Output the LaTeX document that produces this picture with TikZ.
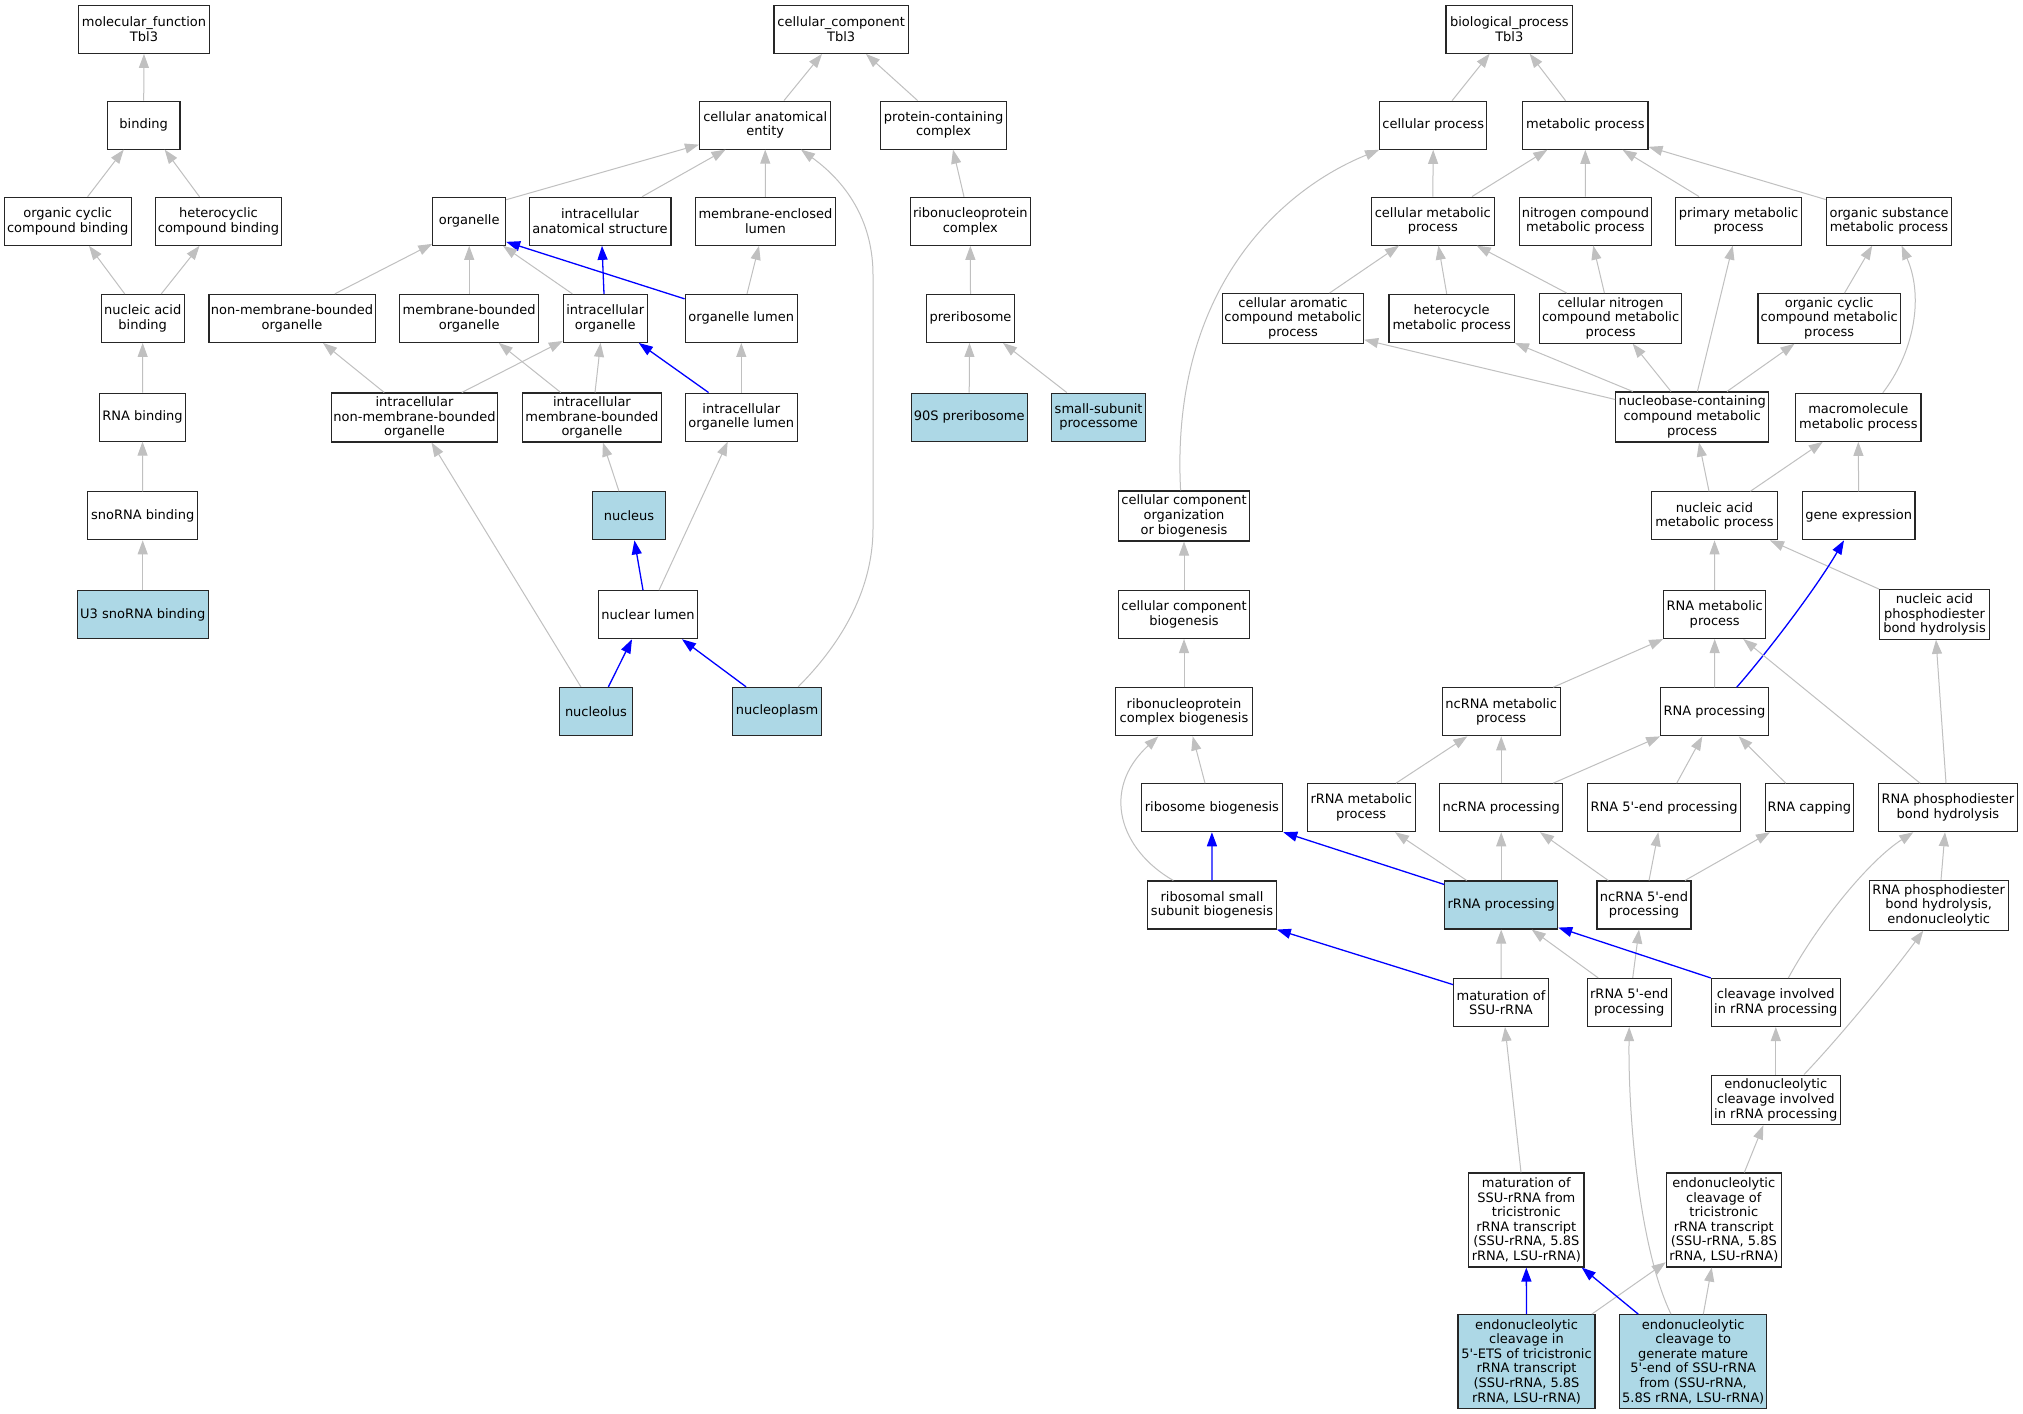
\documentclass[tikz,border=0pt]{standalone}
\usepackage{fontspec}
\setmainfont{DejaVu Sans}
\usetikzlibrary{arrows.meta}
\definecolor{lb}{HTML}{ADD8E6}
\definecolor{eg}{RGB}{192,192,192}
\newcommand\apos{\textquotesingle}
\begin{document}
\begin{tikzpicture}[x=1pt,y=-1pt,
 box/.style={draw=black!85,line width=1.1pt,inner sep=0pt,align=center,minimum height=48pt,font=\fontsize{13}{14.6}\selectfont},
 fb/.style={fill=lb},
 gedge/.style={draw=eg,line width=1pt,-{Triangle[length=14pt,width=10pt]}},
 bedge/.style={draw=blue,line width=1.3pt,-{Triangle[length=14pt,width=10pt]}},
 wd/.style={minimum width=#1pt}, ht/.style={minimum height=#1pt}]
\fill[white] (0,0) rectangle (2023,1413);
\useasboundingbox (0,0) rectangle (2023,1413);
% molecular function
\node[box,wd=131] (mf) at (144,29.4) {molecular\_function\\Tbl3};
\node[box,wd=72.5] (binding) at (143.7,125.1) {binding};
\node[box,wd=126.7] (occb) at (67.7,221.3) {organic cyclic\\compound binding};
\node[box,wd=126.7] (hcb) at (218.5,221.3) {heterocyclic\\compound binding};
\node[box,wd=83.3] (nab) at (142.7,318.4) {nucleic acid\\binding};
\node[box,wd=86.3] (rnab) at (142.5,417.1) {RNA binding};
\node[box,wd=110] (snob) at (142.7,515.8) {snoRNA binding};
\node[box,fb,wd=131] (u3) at (142.7,614.7) {U3 snoRNA binding};
% cellular component
\node[box,wd=134.5] (cc) at (841.2,29.4) {cellular\_component\\Tbl3};
\node[box,wd=131.4] (cae) at (765.2,125.1) {cellular anatomical\\entity};
\node[box,wd=125.8] (pcc) at (943.6,125.1) {protein-containing\\complex};
\node[box,wd=72.8] (organelle) at (469.2,221.3) {organelle};
\node[box,wd=141.9] (ias) at (600,221.3) {intracellular\\anatomical structure};
\node[box,wd=139.6] (mel) at (765.4,221.3) {membrane-enclosed\\lumen};
\node[box,wd=120.2] (rnpc) at (970.3,221.3) {ribonucleoprotein\\complex};
\node[box,wd=166.1] (nmbo) at (292,318.4) {non-membrane-bounded\\organelle};
\node[box,wd=138.8] (mbo) at (469.2,318.4) {membrane-bounded\\organelle};
\node[box,wd=83.7] (io) at (605.2,318.4) {intracellular\\organelle};
\node[box,wd=112.3] (ol) at (741.3,318.4) {organelle lumen};
\node[box,wd=88.5] (prib) at (970.5,318.4) {preribosome};
\node[box,wd=166.5,ht=49] (inmbo) at (414.5,417.5) {intracellular\\non-membrane-bounded\\organelle};
\node[box,wd=138.8,ht=49] (imbo) at (591.9,417.5) {intracellular\\membrane-bounded\\organelle};
\node[box,wd=112.3] (iol) at (741.3,417.1) {intracellular\\organelle lumen};
\node[box,fb,wd=116.3] (s90) at (969.2,417.1) {90S preribosome};
\node[box,fb,wd=94.1] (ssup) at (1098.6,417.1) {small-subunit\\processome};
\node[box,fb,wd=72.4] (nucleus) at (629,515.8) {nucleus};
\node[box,wd=99.3] (nlumen) at (648,614.7) {nuclear lumen};
\node[box,fb,wd=72.9] (nucleolus) at (595.9,711.4) {nucleolus};
\node[box,fb,wd=89.4] (nplasm) at (777.1,711.4) {nucleoplasm};
% biological process
\node[box,wd=126.6] (bp) at (1509.3,29.2) {biological\_process\\Tbl3};
\node[box,wd=107.1] (cp) at (1433.2,125.3) {cellular process};
\node[box,wd=125.4] (mp) at (1585.3,125.3) {metabolic process};
\node[box,wd=123] (cmp) at (1432.8,221.1) {cellular metabolic\\process};
\node[box,wd=131.3] (ncmp) at (1585.4,221.1) {nitrogen compound\\metabolic process};
\node[box,wd=126] (pmp) at (1738.6,221.1) {primary metabolic\\process};
\node[box,wd=125.4] (osmp) at (1889,221.1) {organic substance\\metabolic process};
\node[box,wd=141.3,ht=49.6] (camp) at (1293,318.4) {cellular aromatic\\compound metabolic\\process};
\node[box,wd=125.4] (hmp) at (1451.7,318.4) {heterocycle\\metabolic process};
\node[box,wd=141.8,ht=49.6] (cnmp) at (1610.6,318.4) {cellular nitrogen\\compound metabolic\\process};
\node[box,wd=142.5,ht=49.6] (occmp) at (1829.2,318.4) {organic cyclic\\compound metabolic\\process};
\node[box,wd=153,ht=50] (nbmp) at (1692.1,417) {nucleobase-containing\\compound metabolic\\process};
\node[box,wd=125.3] (mmp) at (1858.3,417.3) {macromolecule\\metabolic process};
\node[box,wd=131.4,ht=50] (ccob) at (1184,516) {cellular component\\organization\\or biogenesis};
\node[box,wd=125.6] (namp) at (1714.5,515.8) {nucleic acid\\metabolic process};
\node[box,wd=112.7] (genexp) at (1858.6,515.8) {gene expression};
\node[box,wd=131.4] (ccb) at (1184,614.5) {cellular component\\biogenesis};
\node[box,wd=102] (rnamp) at (1714.7,614.5) {RNA metabolic\\process};
\node[box,wd=109.6,ht=49.6] (napbh) at (1934.5,614.5) {nucleic acid\\phosphodiester\\bond hydrolysis};
\node[box,wd=136.6] (rnpcb) at (1184,711.8) {ribonucleoprotein\\complex biogenesis};
\node[box,wd=118.3] (ncmetab) at (1501.2,711.8) {ncRNA metabolic\\process};
\node[box,wd=107.6] (rnaproc) at (1714.5,711.8) {RNA processing};
\node[box,wd=141.7] (ribbio) at (1211.9,807.7) {ribosome biogenesis};
\node[box,wd=107.7] (rrnamp) at (1361.2,807.7) {rRNA metabolic\\process};
\node[box,wd=123] (ncproc) at (1501.2,807.7) {ncRNA processing};
\node[box,wd=152.6] (rna5) at (1664,807.7) {RNA 5\apos-end processing};
\node[box,wd=88.7] (rcap) at (1809.4,807.7) {RNA capping};
\node[box,wd=138.3] (rpbh) at (1947.9,807.7) {RNA phosphodiester\\bond hydrolysis};
\node[box,wd=128.6] (rssb) at (1212,905) {ribosomal small\\subunit biogenesis};
\node[box,fb,wd=113] (rrnaproc) at (1501.2,905) {rRNA processing};
\node[box,wd=94] (nc5) at (1644,905) {ncRNA 5\apos-end\\processing};
\node[box,wd=138.7,ht=49.7] (rpbhe) at (1938.7,905.2) {RNA phosphodiester\\bond hydrolysis,\\endonucleolytic};
\node[box,wd=94.6] (mssu) at (1501,1002.5) {maturation of\\SSU-rRNA};
\node[box,wd=83.7] (r5) at (1629.2,1002.5) {rRNA 5\apos-end\\processing};
\node[box,wd=129] (cleav) at (1775.8,1002.5) {cleavage involved\\in rRNA processing};
\node[box,wd=129,ht=49.7] (ecirp) at (1775.8,1099.9) {endonucleolytic\\cleavage involved\\in rRNA processing};
\node[box,wd=115.3,ht=94] (mssut) at (1526.3,1220) {maturation of\\SSU-rRNA from\\tricistronic\\rRNA transcript\\(SSU-rRNA, 5.8S\\rRNA, LSU-rRNA)};
\node[box,wd=115,ht=94] (ect) at (1723.8,1220) {endonucleolytic\\cleavage of\\tricistronic\\rRNA transcript\\(SSU-rRNA, 5.8S\\rRNA, LSU-rRNA)};
\node[box,fb,wd=137,ht=93.6] (ec5) at (1526.5,1361.5) {endonucleolytic\\cleavage in\\5\apos-ETS of tricistronic\\rRNA transcript\\(SSU-rRNA, 5.8S\\rRNA, LSU-rRNA)};
\node[box,fb,wd=147,ht=93.6] (ecgen) at (1693.2,1361.5) {endonucleolytic\\cleavage to\\generate mature\\5\apos-end of SSU-rRNA\\from (SSU-rRNA,\\5.8S rRNA, LSU-rRNA)};
% edges: molecular function
\draw[gedge] (binding.north) -- (mf.south);
\draw[gedge] ([xshift=19.9pt]occb.north) -- ([xshift=-20pt]binding.south);
\draw[gedge] ([xshift=-19pt]hcb.north) -- ([xshift=21pt]binding.south);
\draw[gedge] ([xshift=-18pt]nab.north) -- ([xshift=21.3pt]occb.south);
\draw[gedge] ([xshift=18.6pt]nab.north) -- ([xshift=-19pt]hcb.south);
\draw[gedge] (rnab.north) -- (nab.south);
\draw[gedge] (snob.north) -- (rnab.south);
\draw[gedge] (u3.north) -- (snob.south);
% edges: cellular component
\draw[gedge] ([xshift=18.8pt]cae.north) -- ([xshift=-19.2pt]cc.south);
\draw[gedge] ([xshift=-26pt]pcc.north) -- ([xshift=24.8pt]cc.south);
\draw[gedge] ([yshift=-3pt]organelle.north east) -- ([yshift=5pt]cae.south west);
\draw[gedge] ([xshift=42pt]ias.north) -- ([xshift=-39.7pt]cae.south);
\draw[gedge] (mel.north) -- (cae.south);
\draw[gedge] ([xshift=21pt]nplasm.north) .. controls (830,655) and (873,600) .. (873,528) -- (873,275) .. controls (873,225) and (850,185) .. ([xshift=35.8pt]cae.south);
\draw[gedge] ([xshift=-6.3pt]rnpc.north) -- ([xshift=9.4pt]pcc.south);
\draw[gedge] (prib.north) -- (rnpc.south);
\draw[gedge] (s90.north) -- ([xshift=-1pt]prib.south);
\draw[gedge] ([xshift=-31.8pt]ssup.north) -- ([xshift=32.5pt]prib.south);
\draw[bedge] ([yshift=-5pt]ol.north west) -- ([yshift=4pt]organelle.south east);
\draw[bedge] ([xshift=-1.2pt]io.north) -- ([xshift=2pt]ias.south);
\draw[gedge] ([xshift=5.7pt]ol.north) -- ([xshift=-6.4pt]mel.south);
\draw[gedge] (iol.north) -- (ol.south);
\draw[bedge] ([xshift=-32.7pt]iol.north) -- ([xshift=33.6pt]io.south);
\draw[gedge] ([xshift=3.1pt]imbo.north) -- ([xshift=-4.6pt]io.south);
\draw[gedge] ([xshift=-31.2pt]imbo.north) -- ([xshift=29.5pt]mbo.south);
\draw[gedge] ([xshift=47.3pt]inmbo.north) -- ([yshift=2pt]io.south west);
\draw[gedge] ([xshift=-30.3pt]inmbo.north) -- ([xshift=31pt]nmbo.south);
\draw[gedge] ([xshift=-10pt]nucleus.north) -- ([xshift=11pt]imbo.south);
\draw[bedge] ([xshift=-5pt]nlumen.north) -- ([xshift=5.4pt]nucleus.south);
\draw[gedge] ([xshift=11pt]nlumen.north) -- ([xshift=-13.6pt]iol.south);
\draw[bedge] ([xshift=12.5pt]nucleolus.north) -- ([xshift=-16pt]nlumen.south);
\draw[bedge] ([xshift=-31pt]nplasm.north) -- ([xshift=34pt]nlumen.south);
\draw[gedge] ([xshift=-15pt]nucleolus.north) -- ([xshift=17pt]inmbo.south);
\draw[gedge] ([xshift=42.8pt]nmbo.north) -- ([yshift=2pt]organelle.south west);
\draw[gedge] (mbo.north) -- (organelle.south);
\draw[gedge] ([xshift=-32.8pt]io.north) -- ([xshift=33.8pt]organelle.south);
% edges: biological process
\draw[gedge] ([xshift=18.8pt]cp.north) -- ([xshift=-19.7pt]bp.south);
\draw[gedge] ([xshift=-19.7pt]mp.north) -- ([xshift=20.3pt]bp.south);
\draw[gedge] (cmp.north) -- (cp.south);
\draw[gedge] ([xshift=39.2pt]cmp.north) -- ([xshift=-38pt]mp.south);
\draw[gedge] (ncmp.north) -- (mp.south);
\draw[gedge] ([xshift=-39.6pt]pmp.north) -- ([xshift=37.3pt]mp.south);
\draw[gedge] ([yshift=-3pt]osmp.north west) -- ([yshift=3pt]mp.south east);
\draw[gedge] ([xshift=36.5pt]camp.north) -- ([xshift=-33.8pt]cmp.south);
\draw[gedge] ([xshift=-5pt]hmp.north) -- ([xshift=5.6pt]cmp.south);
\draw[gedge] ([xshift=-43.9pt]cnmp.north) -- ([xshift=43.9pt]cmp.south);
\draw[gedge] ([xshift=-6.2pt]cnmp.north) -- ([xshift=7.8pt]ncmp.south);
\draw[gedge] ([xshift=15.3pt]occmp.north) -- ([xshift=-16.8pt]osmp.south);
\draw[gedge] ([xshift=24.5pt]mmp.north) .. controls (1912,355) and (1925,300) .. ([xshift=12.6pt]osmp.south);
\draw[gedge] ([yshift=-8pt]nbmp.north west) -- ([yshift=4pt]camp.south east);
\draw[gedge] ([xshift=-59.4pt]nbmp.north) -- (hmp.south east);
\draw[gedge] ([xshift=-21.1pt]nbmp.north) -- ([xshift=22.1pt]cnmp.south);
\draw[gedge] ([xshift=5.3pt]nbmp.north) -- ([xshift=-5.9pt]pmp.south);
\draw[gedge] ([xshift=34.9pt]nbmp.north) -- ([xshift=-34.7pt]occmp.south);
\draw[gedge] ([xshift=-5.5pt]namp.north) -- ([xshift=6.9pt]nbmp.south);
\draw[gedge] ([xshift=35.9pt]namp.north) -- ([xshift=-35.5pt]mmp.south);
\draw[gedge] (genexp.north) -- (mmp.south);
\draw[gedge] ([xshift=-3.4pt]ccob.north) .. controls (1170,290) and (1280,190) .. (cp.south west);
\draw[gedge] (ccb.north) -- (ccob.south);
\draw[gedge] (rnpcb.north) -- (ccb.south);
\draw[gedge] ([xshift=-6.9pt]ribbio.north) -- ([xshift=8.7pt]rnpcb.south);
\draw[gedge] ([xshift=-38.7pt]rssb.north) .. controls (1120,850) and (1100,790) .. ([xshift=-25.7pt]rnpcb.south);
\draw[bedge] (rssb.north) -- (ribbio.south);
\draw[bedge] ([yshift=-4pt]rrnaproc.north west) -- (ribbio.south east);
\draw[bedge] ([yshift=-6.7pt]mssu.north west) -- (rssb.south east);
\draw[gedge] ([xshift=-34.5pt]rrnaproc.north) -- ([xshift=33.8pt]rrnamp.south);
\draw[gedge] (rrnaproc.north) -- (ncproc.south);
\draw[gedge] ([xshift=34.8pt]rrnamp.north) -- ([xshift=-33.9pt]ncmetab.south);
\draw[gedge] (ncproc.north) -- (ncmetab.south);
\draw[gedge] ([xshift=52pt]ncproc.north) -- (rnaproc.south west);
\draw[gedge] ([xshift=52pt]ncmetab.north) -- (rnamp.south west);
\draw[gedge] (rnamp.north) -- (namp.south);
\draw[gedge] (napbh.north west) -- ([xshift=55.5pt]namp.south);
\draw[bedge] ([xshift=22.2pt]rnaproc.north) .. controls (1765,655) and (1815,590) .. ([xshift=-14.6pt]genexp.south);
\draw[gedge] (rnaproc.north) -- (rnamp.south);
\draw[gedge] ([xshift=-27.9pt]rpbh.north) -- ([xshift=28.6pt]rnamp.south);
\draw[gedge] ([xshift=-1.9pt]rpbh.north) -- ([xshift=1.5pt]napbh.south);
\draw[gedge] ([xshift=12.7pt]rna5.north) -- ([xshift=-12.2pt]rnaproc.south);
\draw[gedge] ([xshift=-23.7pt]rcap.north) -- ([xshift=24.2pt]rnaproc.south);
\draw[gedge] ([xshift=-35.7pt]nc5.north) -- ([xshift=38.8pt]ncproc.south);
\draw[gedge] ([xshift=5pt]nc5.north) -- ([xshift=-5.7pt]rna5.south);
\draw[gedge] ([xshift=41pt]nc5.north) -- ([xshift=-39.4pt]rcap.south);
\draw[gedge] ([xshift=2.3pt]rpbhe.north) -- ([xshift=-2.9pt]rpbh.south);
\draw[gedge] ([xshift=12.5pt]cleav.north) .. controls (1820,920) and (1870,860) .. ([xshift=-34.6pt]rpbh.south);
\draw[gedge] (mssu.north) -- (rrnaproc.south);
\draw[gedge] ([xshift=-30.9pt]r5.north) -- ([xshift=30.5pt]rrnaproc.south);
\draw[gedge] ([xshift=3.5pt]r5.north) -- ([xshift=-5pt]nc5.south);
\draw[bedge] (cleav.north west) -- ([yshift=2pt]rrnaproc.south east);
\draw[gedge] (ecirp.north) -- (cleav.south);
\draw[gedge] ([xshift=28.2pt]ecirp.north) .. controls (1839,1038) and (1893,972) .. ([xshift=-15.4pt]rpbhe.south);
\draw[gedge] ([xshift=-5.3pt]mssut.north) -- ([xshift=4pt]mssu.south);
\draw[gedge] ([xshift=20.5pt]ect.north) -- ([xshift=-12.5pt]ecirp.south);
\draw[bedge] (ec5.north) -- (mssut.south);
\draw[gedge] ([xshift=65.2pt]ec5.north) -- ([yshift=5.3pt]ect.south west);
\draw[bedge] ([xshift=-54.9pt]ecgen.north) -- ([xshift=55.4pt]mssut.south);
\draw[gedge] ([xshift=-22.2pt]ecgen.north) .. controls (1640,1250) and (1628,1120) .. (r5.south);
\draw[gedge] ([xshift=10.1pt]ecgen.north) -- ([xshift=-12.1pt]ect.south);
\end{tikzpicture}
\end{document}
